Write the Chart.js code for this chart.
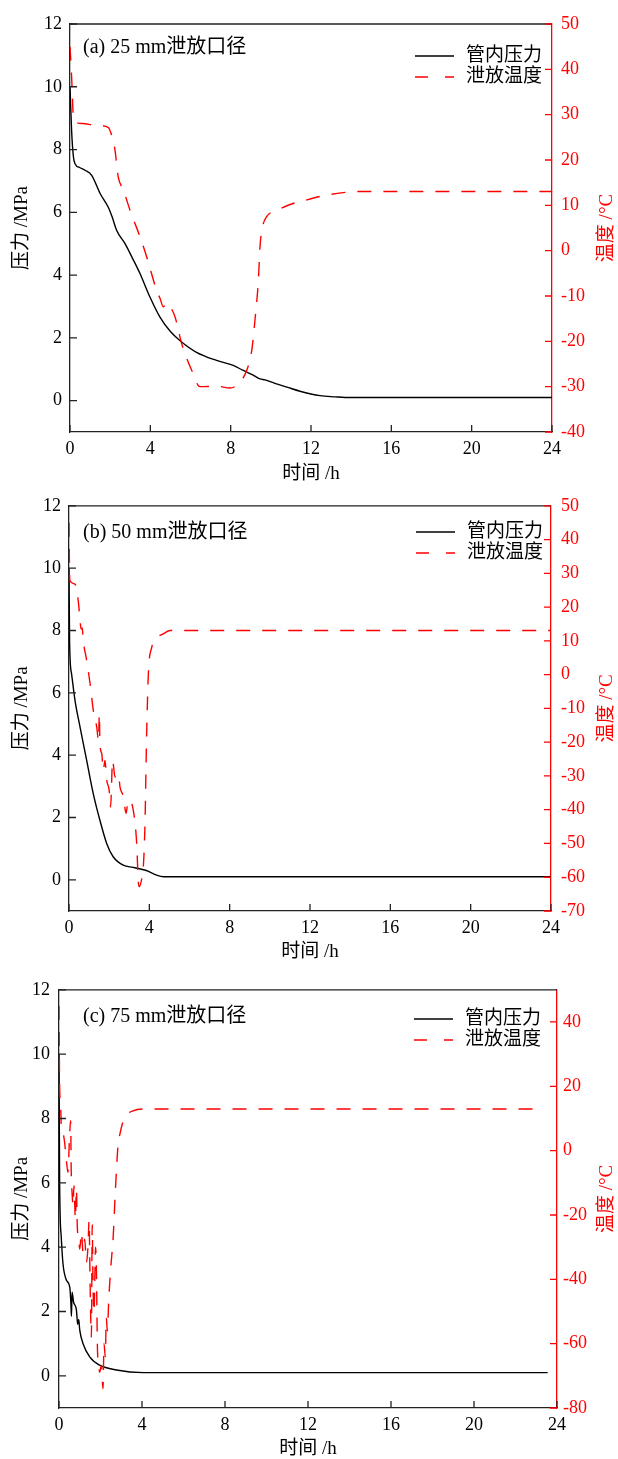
<!DOCTYPE html>
<html>
<head>
<meta charset="utf-8">
<script src="https://cdn.jsdelivr.net/npm/chart.js@4.4.1/dist/chart.umd.min.js"></script>
<style>
  html, body { margin: 0; padding: 0; background: #fff; }
  body { width: 618px; height: 1459px; position: relative; overflow: hidden; }
  .panel { position: absolute; left: 0; width: 618px; }
</style>
</head>
<body>
<div class="panel" style="top:0;height:485px"><canvas id="chartA"></canvas></div>
<div class="panel" style="top:485px;height:485px"><canvas id="chartB"></canvas></div>
<div class="panel" style="top:970px;height:489px"><canvas id="chartC"></canvas></div>
<script>
// tick labels
const hourTicks = [0, 4, 8, 12, 16, 20, 24];
const pressureTicks = [0, 2, 4, 6, 8, 10, 12];
const tempTicksA = [-40, -30, -20, -10, 0, 10, 20, 30, 40, 50];
const tempTicksB = [-70, -60, -50, -40, -30, -20, -10, 0, 10, 20, 30, 40, 50];
const tempTicksC = [-80, -60, -40, -20, 0, 20, 40];

const seriesLabels = ['管内压力', '泄放温度'];

// (a) 25 mm
const timeA_p = [0, 0.08, 0.17, 0.25, 0.5, 0.75, 1.08, 1.5, 1.9, 2.1, 2.32, 2.74, 3.1, 3.49, 3.98, 4.48, 5.0, 5.48, 6.3, 7.3, 8.13, 8.63, 9.1, 9.46, 9.71, 10.2, 10.8, 11.45, 12.45, 13.2, 13.7, 24];
const pressureA = [10.0, 8.6, 7.77, 7.55, 7.42, 7.34, 7.18, 6.6, 6.17, 5.85, 5.43, 5.0, 4.55, 4.04, 3.3, 2.66, 2.2, 1.91, 1.54, 1.28, 1.12, 0.96, 0.82, 0.69, 0.66, 0.55, 0.43, 0.30, 0.16, 0.12, 0.1, 0.1];
const timeA_t = [0, 0.08, 0.17, 0.3, 0.75, 1.2, 1.9, 2.07, 2.24, 2.4, 2.66, 2.99, 3.49, 3.82, 4.31, 4.48, 4.65, 4.8, 4.98, 5.23, 5.56, 6.06, 6.47, 7.3, 7.97, 8.46, 8.8, 9.05, 9.21, 9.38, 9.46, 9.59, 9.79, 10.3, 11.1, 11.45, 12.5, 13.6, 14.5, 24];
const tempA = [45, 38.4, 29.5, 28.3, 28.0, 27.7, 27.2, 25.5, 22.2, 16.3, 13.4, 8.9, 3.0, -1.4, -8.7, -10.5, -12.4, -11.5, -12.3, -14.6, -20.5, -26.4, -30, -29.9, -30.3, -29, -26.4, -22, -15.3, -6.5, 0.85, 5.3, 7.5, 8.9, 10.4, 10.8, 12.0, 12.8, 13.05, 13.05];

// (b) 50 mm
const timeB_p = [0, 0.03, 0.13, 0.3, 0.55, 0.88, 1.21, 1.54, 1.88, 2.2, 2.7, 3.19, 3.85, 4.37, 4.7, 24];
const pressureB = [10, 7.6, 6.6, 5.75, 4.9, 3.83, 2.76, 1.91, 1.16, 0.74, 0.47, 0.40, 0.30, 0.15, 0.1, 0.1];
const timeB_t = [0, 0.03, 0.05, 0.3, 0.46, 0.55, 0.6, 0.66, 0.71, 0.88, 1.05, 1.21, 1.38, 1.47, 1.51, 1.54, 1.63, 1.71, 1.79, 1.88, 2.0, 2.07, 2.17, 2.29, 2.46, 2.54, 2.71, 2.84, 2.95, 3.2, 3.37, 3.45, 3.5, 3.62, 3.7, 3.78, 3.86, 3.95, 4.12, 4.4, 4.7, 5.03, 24];
const tempB = [45, 30, 27.8, 26.8, 21.9, 16, 13.5, 13.8, 10.1, 4.2, -2.7, -10.6, -15.5, -19.5, -11.6, -20.4, -23.4, -28.3, -25.4, -31.3, -34.2, -39.2, -25.4, -30.3, -29.3, -33.3, -36.2, -41.1, -37.2, -40.1, -50, -61.3, -62.8, -60.5, -57, -45, -19.5, 0, 8.1, 11, 12.1, 13.05, 13.05];

// (c) 75 mm
const timeC_p = [0, 0.03, 0.11, 0.19, 0.36, 0.52, 0.57, 0.6, 0.63, 0.7, 0.84, 0.9, 0.95, 1.0, 1.16, 1.48, 1.96, 2.77, 4.05, 23.55];
const pressureC = [10, 6.0, 4.3, 3.5, 2.97, 2.76, 2.3, 1.85, 2.6, 2.3, 2.04, 1.6, 1.75, 1.42, 1.0, 0.59, 0.33, 0.18, 0.1, 0.1];
const timeC_t = [0, 0.03, 0.08, 0.11, 0.19, 0.27, 0.35, 0.43, 0.51, 0.56, 0.59, 0.63, 0.68, 0.72, 0.79, 0.84, 0.88, 0.95, 1.0, 1.08, 1.16, 1.24, 1.32, 1.4, 1.45, 1.5, 1.56, 1.6, 1.64, 1.69, 1.72, 1.76, 1.8, 1.85, 1.91, 1.96, 2.04, 2.12, 2.17, 2.23, 2.28, 2.33, 2.4, 2.49, 2.61, 2.72, 2.85, 2.93, 3.1, 3.57, 4.06, 23.4];
const tempC = [45, 20.2, 14, 7.8, 5.7, 2.6, -2.6, -6.7, 4.7, 9.3, -6.7, -13, -17, -10.9, -21.2, -11.9, -23.3, -27.5, -30.6, -25.4, -31.6, -27.5, -34.7, -29.5, -21.8, -42, -58, -23, -42, -50.3, -42, -30, -35.8, -60.6, -66.8, -68.9, -66.8, -74, -60, -64, -52, -56, -46, -36.8, -27, -12, 2.2, 5, 9.3, 12.4, 12.95, 12.95];

const FONT = '"Liberation Serif", "Noto Sans CJK SC", serif';
const RED = '#ff0000';
const AXIS = '#222';

function zip(xs, ys) {
  return xs.map((x, i) => ({ x: x, y: ys[i] }));
}

function setTicks(arr) {
  return scale => { scale.ticks = arr.map(v => ({ value: v })); };
}

function makeChart(id, p) {
  const decor = {
    id: 'decor' + id,
    afterDraw(chart) {
      const ctx = chart.ctx;
      const a = chart.chartArea;
      const sx = chart.scales.x, sy = chart.scales.y, sy1 = chart.scales.y1;
      ctx.save();
      // top frame line
      ctx.strokeStyle = AXIS;
      ctx.lineWidth = 1.3;
      ctx.beginPath();
      ctx.moveTo(a.left, a.top);
      ctx.lineTo(a.right, a.top);
      ctx.stroke();
      // inward ticks
      ctx.beginPath();
      hourTicks.forEach(v => {
        const px = sx.getPixelForValue(v);
        ctx.moveTo(px, a.bottom);
        ctx.lineTo(px, a.bottom - 7);
      });
      pressureTicks.forEach(v => {
        const py = sy.getPixelForValue(v);
        ctx.moveTo(a.left, py);
        ctx.lineTo(a.left + 7, py);
      });
      ctx.stroke();
      ctx.strokeStyle = RED;
      ctx.beginPath();
      p.tempTicks.forEach(v => {
        const py = sy1.getPixelForValue(v);
        ctx.moveTo(a.right, py);
        ctx.lineTo(a.right - 7, py);
      });
      ctx.stroke();

      // panel note
      ctx.fillStyle = '#000';
      ctx.font = '20px ' + FONT;
      ctx.textAlign = 'left';
      ctx.textBaseline = 'middle';
      ctx.fillText(p.note, p.noteX, p.noteY);

      // legend
      ctx.font = '19px ' + FONT;
      chart.data.datasets.forEach((ds, i) => {
        const y = p.legY + i * 21;
        ctx.strokeStyle = ds.borderColor;
        ctx.lineWidth = 1.4;
        ctx.setLineDash(ds.borderDash ? [13, 17] : []);
        ctx.beginPath();
        ctx.moveTo(p.legX, y);
        ctx.lineTo(p.legX + 39, y);
        ctx.stroke();
        ctx.setLineDash([]);
        ctx.fillStyle = '#000';
        ctx.fillText(ds.label, p.legX + 51, y);
      });

      // right axis title, reading upward
      ctx.translate(607, (a.top + a.bottom) / 2);
      ctx.rotate(-Math.PI / 2);
      ctx.fillStyle = RED;
      ctx.textAlign = 'center';
      ctx.fillText('温度 /°C', 0, 0);
      ctx.restore();
    }
  };

  return new Chart(document.getElementById(id), {
    type: 'line',
    data: {
      datasets: [
        {
          label: seriesLabels[0],
          data: zip(p.tP, p.pres),
          yAxisID: 'y',
          borderColor: '#000',
          borderWidth: 1.4,
          pointRadius: 0,
          cubicInterpolationMode: 'monotone',
          order: 1
        },
        {
          label: seriesLabels[1],
          data: zip(p.tT, p.temp),
          yAxisID: 'y1',
          borderColor: RED,
          borderWidth: 1.4,
          borderDash: [14, 12],
          pointRadius: 0,
          cubicInterpolationMode: 'monotone',
          order: 0
        }
      ]
    },
    options: {
      responsive: true,
      maintainAspectRatio: false,
      animation: false,
      events: [],
      layout: { padding: { top: p.box.t, bottom: 0, left: 0, right: 0 } },
      plugins: { legend: { display: false }, tooltip: { enabled: false } },
      scales: {
        x: {
          type: 'linear',
          min: 0,
          max: 24,
          afterBuildTicks: setTicks(hourTicks),
          afterFit: s => { s.height = p.H - p.box.b; },
          grid: { display: false, drawTicks: false },
          border: { color: AXIS, width: 1.3 },
          ticks: { color: '#000', font: { family: FONT, size: 18 }, padding: 6, autoSkip: false, maxRotation: 0 },
          title: {
            display: true, text: '时间 /h', color: '#000',
            font: { family: FONT, size: 19, lineHeight: 1 },
            padding: { top: 0, bottom: p.xTitlePad }
          }
        },
        y: {
          position: 'left',
          min: -1,
          max: 12,
          afterBuildTicks: setTicks(pressureTicks),
          afterFit: s => { s.width = p.box.l; },
          grid: { display: false, drawTicks: false },
          border: { color: AXIS, width: 1.3 },
          ticks: { color: '#000', font: { family: FONT, size: 18 }, padding: p.leftPad },
          title: {
            display: true, text: '压力 /MPa', color: '#000',
            font: { family: FONT, size: 19, lineHeight: 1 },
            padding: { top: 13, bottom: 0 }
          }
        },
        y1: {
          position: 'right',
          min: p.tMin,
          max: p.tMax,
          afterBuildTicks: setTicks(p.tempTicks),
          afterFit: s => { s.width = 618 - p.box.r; },
          grid: { display: false, drawTicks: false },
          border: { color: RED, width: 1.3 },
          ticks: { color: RED, font: { family: FONT, size: 18 }, padding: p.rightPad }
        }
      }
    },
    plugins: [decor]
  });
}

makeChart('chartA', {
  H: 485, box: { l: 70, r: 552, t: 24, b: 432 },
  tP: timeA_p, pres: pressureA, tT: timeA_t, temp: tempA,
  tMin: -40, tMax: 50, tempTicks: tempTicksA,
  note: '(a) 25 mm泄放口径', noteX: 83, noteY: 48,
  legX: 415, legY: 56, xTitlePad: 1.5, leftPad: 8, rightPad: 9
});

makeChart('chartB', {
  H: 485, box: { l: 69, r: 551, t: 20, b: 426 },
  tP: timeB_p, pres: pressureB, tT: timeB_t, temp: tempB,
  tMin: -70, tMax: 50, tempTicks: tempTicksB,
  note: '(b) 50 mm泄放口径', noteX: 83, noteY: 48,
  legX: 416, legY: 47, xTitlePad: 8.5, leftPad: 8, rightPad: 10
});

makeChart('chartC', {
  H: 489, box: { l: 59, r: 557, t: 19, b: 438 },
  tP: timeC_p, pres: pressureC, tT: timeC_t, temp: tempC,
  tMin: -80, tMax: 50, tempTicks: tempTicksC,
  note: '(c) 75 mm泄放口径', noteX: 83, noteY: 47,
  legX: 414, legY: 49, xTitlePad: 0, leftPad: 9, rightPad: 6
});
</script>
</body>
</html>
